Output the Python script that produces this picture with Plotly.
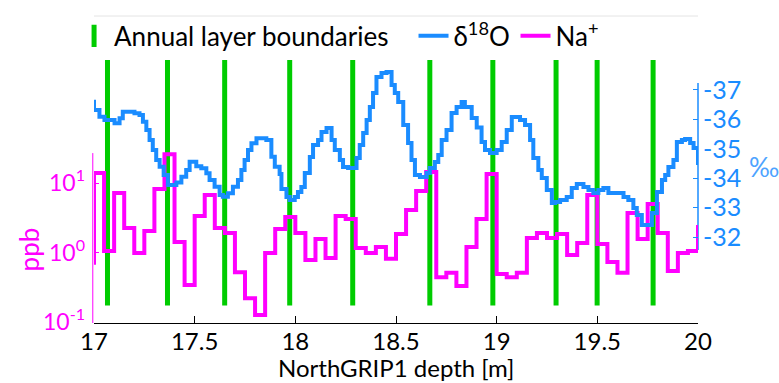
import plotly.graph_objects as go

# ---------------- data ----------------
depth_na = [16.95, 17.00, 17.05, 17.10, 17.15, 17.20, 17.25, 17.30, 17.35, 17.40,
            17.45, 17.50, 17.55, 17.60, 17.65, 17.70, 17.75, 17.80, 17.85, 17.90,
            17.95, 18.00, 18.05, 18.10, 18.15, 18.20, 18.25, 18.30, 18.35, 18.40,
            18.45, 18.50, 18.55, 18.60, 18.65, 18.70, 18.75, 18.80, 18.85, 18.90,
            18.95, 19.00, 19.05, 19.10, 19.15, 19.20, 19.25, 19.30, 19.35, 19.40,
            19.45, 19.50, 19.55, 19.60, 19.65, 19.70, 19.75, 19.80, 19.85, 19.90,
            19.95, 20.00]
na_ppb = [0.71, 13.9, 1.05, 7.2, 2.25, 0.98, 2.04, 8.2, 26.0, 1.42,
          0.34, 3.35, 6.7, 2.25, 1.91, 0.52, 0.22, 0.126, 0.98, 2.18,
          3.24, 1.91, 0.78, 1.56, 0.83, 3.35, 3.03, 1.16, 0.98, 1.20,
          0.81, 1.85, 4.09, 7.67, 14.4, 0.44, 0.51, 0.33, 1.20, 3.03,
          13.5, 0.49, 0.44, 0.51, 1.62, 1.91, 1.62, 1.85, 0.92, 1.37,
          6.7, 1.33, 0.73, 0.51, 3.70, 1.56, 4.99, 1.91, 0.54, 0.98,
          1.05, 2.49]

depth_d18o = [16.990, 17.000, 17.027, 17.052, 17.102, 17.127, 17.143, 17.201, 17.226, 17.243,
              17.260, 17.276, 17.292, 17.309, 17.326, 17.346, 17.367, 17.409, 17.434, 17.458,
              17.475, 17.508, 17.533, 17.558, 17.574, 17.599, 17.624, 17.640, 17.665, 17.690,
              17.715, 17.732, 17.748, 17.765, 17.782, 17.807, 17.856, 17.881, 17.898, 17.922,
              17.931, 17.956, 17.972, 17.997, 18.013, 18.030, 18.047, 18.072, 18.088, 18.113,
              18.130, 18.155, 18.180, 18.196, 18.221, 18.237, 18.262, 18.304, 18.320, 18.337,
              18.354, 18.370, 18.386, 18.403, 18.428, 18.453, 18.478, 18.494, 18.511, 18.536,
              18.560, 18.577, 18.594, 18.619, 18.652, 18.668, 18.693, 18.710, 18.727, 18.751,
              18.776, 18.801, 18.826, 18.842, 18.876, 18.901, 18.925, 18.942, 18.967, 19.000,
              19.025, 19.050, 19.075, 19.116, 19.141, 19.166, 19.182, 19.207, 19.224, 19.249,
              19.274, 19.290, 19.315, 19.348, 19.373, 19.398, 19.431, 19.456, 19.480, 19.505,
              19.530, 19.555, 19.630, 19.654, 19.679, 19.696, 19.721, 19.771, 19.796, 19.821,
              19.837, 19.853, 19.878, 19.895, 19.920, 19.936, 19.961, 19.978, 20.000]
d18o = [-36.60, -36.32, -36.09, -35.98, -35.87, -36.04, -36.26, -36.21, -36.15, -35.92,
        -35.64, -35.30, -34.96, -34.62, -34.39, -34.11, -33.77, -33.85, -34.05, -34.28,
        -34.56, -34.41, -34.34, -34.17, -33.94, -33.71, -33.43, -33.37, -33.49, -33.71,
        -33.94, -34.28, -34.62, -34.96, -35.19, -35.36, -35.30, -34.73, -34.39, -34.14,
        -33.63, -33.36, -33.26, -33.36, -33.53, -33.70, -34.18, -34.72, -35.13, -35.30,
        -35.57, -35.71, -35.30, -34.96, -34.62, -34.38, -34.35, -34.69, -35.13, -35.54,
        -35.98, -36.42, -36.90, -37.44, -37.58, -37.61, -37.17, -36.90, -36.59, -35.81,
        -35.20, -34.62, -34.11, -34.04, -34.18, -34.35, -34.55, -34.79, -35.30, -35.64,
        -36.22, -36.42, -36.59, -36.42, -36.05, -35.72, -35.23, -34.96, -34.86, -34.96,
        -35.23, -35.64, -36.08, -35.98, -35.81, -35.30, -34.69, -34.28, -34.01, -33.60,
        -33.16, -33.19, -33.26, -33.36, -33.67, -33.80, -33.70, -33.60, -33.50, -33.60,
        -33.67, -33.50, -33.36, -33.26, -32.99, -32.75, -32.41, -32.82, -33.53, -33.94,
        -34.11, -34.38, -34.62, -35.23, -35.30, -35.33, -35.20, -35.03, -34.45]

boundaries = [17.067, 17.365, 17.649, 17.972, 18.285, 18.668, 18.981, 19.295, 19.499, 19.777]

x_ticks = [17, 17.5, 18, 18.5, 19, 19.5, 20]
x_ticktext = ["17", "17.5", "18", "18.5", "19", "19.5", "20"]
na_ticks = [0.1, 1, 10]
na_ticktext = ["10<sup>-1</sup>", "10<sup>0</sup>", "10<sup>1</sup>"]
d18o_ticks = [-37, -36, -35, -34, -33, -32]
d18o_ticktext = ["-37", "-36", "-35", "-34", "-33", "-32"]

# ---------------- styles ----------------
GREEN = "#00CC00"
BLUE = "#1A8CFF"
MAGENTA = "#FF00FF"
FONT = "Lato"

# green boundary lines built from the boundary list
gx, gy = [], []
for b in boundaries:
    gx += [b, b, None]
    gy += [0.065, 0.981, None]

fig = go.Figure()
fig.add_trace(go.Scatter(x=gx, y=gy, mode="lines", yaxis="y",
                         line=dict(color=GREEN, width=5), showlegend=False,
                         hoverinfo="skip"))
fig.add_trace(go.Scatter(x=[None], y=[None], mode="markers", yaxis="y",
                         name="Annual layer boundaries", legend="legend",
                         marker=dict(symbol="line-ns", size=16,
                                     line=dict(color=GREEN, width=5))))
fig.add_trace(go.Scatter(x=depth_d18o, y=d18o, mode="lines", yaxis="y3",
                         line=dict(color=BLUE, width=4, shape="hv"),
                         name="δ<sup>18</sup>O", legend="legend2"))
fig.add_trace(go.Scatter(x=depth_na, y=na_ppb, mode="lines", yaxis="y2",
                         line=dict(color=MAGENTA, width=4, shape="hv"),
                         name="Na<sup>+</sup>", legend="legend2"))

fig.update_layout(
    width=779, height=383,
    margin=dict(l=94, r=81, t=55, b=60, autoexpand=False),
    paper_bgcolor="white", plot_bgcolor="white",
    font=dict(family=FONT, size=26, color="black"),
    xaxis=dict(range=[17, 20], tickvals=x_ticks, ticktext=x_ticktext,
               ticks="inside", ticklen=7, tickcolor="black", tickwidth=1,
               showline=True, linecolor="black", linewidth=1,
               showgrid=False, zeroline=False, automargin=False,
               tickfont=dict(size=24, color="black"),
               ticklabelstandoff=-3),
    yaxis=dict(range=[0, 1], visible=False, fixedrange=True, automargin=False),
    yaxis2=dict(type="log", overlaying="y", side="left", anchor="x",
                range=[-1.0144, 2.8417], tickvals=na_ticks, ticktext=na_ticktext,
                ticks="inside", ticklen=5, tickcolor=MAGENTA,
                tickfont=dict(size=23, color=MAGENTA),
                ticklabelstandoff=8, automargin=False,
                showline=False, showgrid=False, zeroline=False),
    yaxis3=dict(overlaying="y", side="right", anchor="x",
                range=[-29.075, -38.190], tickvals=d18o_ticks, ticktext=d18o_ticktext,
                ticks="inside", ticklen=5, tickcolor=BLUE,
                tickfont=dict(size=25, color=BLUE),
                ticklabelstandoff=4, automargin=False,
                showline=False, showgrid=False, zeroline=False),
    legend=dict(orientation="h", x=-0.033, y=1.071, xanchor="left", yanchor="middle",
                font=dict(size=26, color="black"), bgcolor="rgba(0,0,0,0)",
                borderwidth=0, itemclick=False),
    legend2=dict(orientation="h", x=0.529, y=1.071, xanchor="left", yanchor="middle",
                 font=dict(size=26, color="black"), bgcolor="rgba(0,0,0,0)",
                 borderwidth=0, entrywidth=57, entrywidthmode="pixels"),
    shapes=[
        dict(type="line", xref="paper", yref="paper", x0=-0.002, x1=-0.002, y0=0.0, y1=0.634,
             line=dict(color=MAGENTA, width=1), layer="below"),
        dict(type="line", xref="paper", yref="paper", x0=1.0, x1=1.0, y0=0.272, y1=0.8955,
             line=dict(color=BLUE, width=1.5), layer="below"),
        dict(type="line", xref="paper", yref="paper", x0=0.0, x1=1.0, y0=1.1455, y1=1.1455,
             line=dict(color="#e4e4e4", width=1), layer="below"),
    ],
    annotations=[
        dict(text="NorthGRIP1 depth [m]", xref="paper", yref="paper", x=0.5, y=-0.1679,
             showarrow=False, font=dict(size=24, color="black"),
             xanchor="center", yanchor="middle"),
        dict(text="ppb", xref="paper", yref="paper", x=-0.107, y=0.276,
             textangle=-90, showarrow=False, font=dict(size=26, color=MAGENTA),
             xanchor="center", yanchor="middle"),
        dict(text="‰", xref="paper", yref="paper", x=1.11, y=0.582,
             showarrow=False, font=dict(size=26, color="#4DA3FF"),
             xanchor="center", yanchor="middle"),
    ],
)

fig.write_html("out.html")
